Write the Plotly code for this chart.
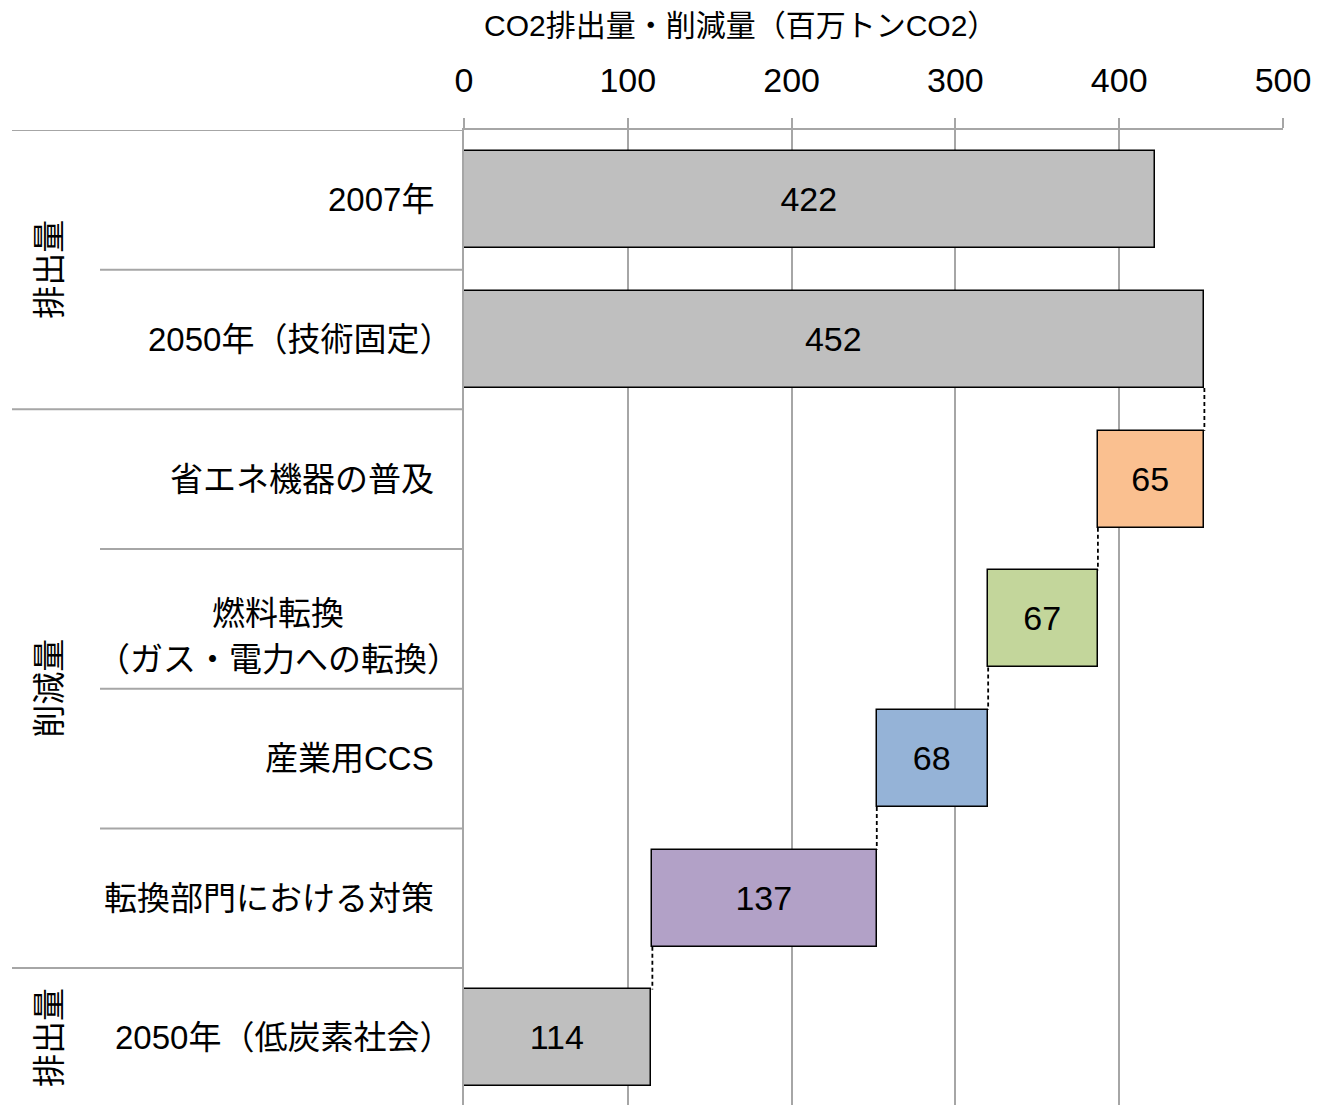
import plotly.graph_objects as go

# data
categories = ["2007年", "2050年（技術固定）", "省エネ機器の普及",
              "燃料転換<br>（ガス・電力への転換）", "産業用CCS",
              "転換部門における対策", "2050年（低炭素社会）"]
values = [422, 452, 65, 67, 68, 137, 114]
kinds = ["emit", "emit", "cut", "cut", "cut", "cut", "emit"]
colors = ["#BFBFBF", "#BFBFBF", "#FAC090", "#C3D69B", "#95B3D7", "#B2A1C7", "#BFBFBF"]
groups = [("排出量", 0, 1), ("削減量", 2, 5), ("排出量", 6, 6)]
x_ticks = [0, 100, 200, 300, 400, 500]

FONT = "Arial, 'Liberation Sans', 'Noto Sans CJK JP', sans-serif"
# the page body adds an 8px margin, so the figure is 8px smaller
OFF = 8
W, H = 1320 - OFF, 1105 - OFF
L, R, T, B = 464 - OFF, 37, 130 - OFF, 0
BAR_W = 0.695

# waterfall bases: reductions step down from the previous level
bases = []
level = 0
for v, k in zip(values, kinds):
    if k == "emit":
        bases.append(0)
        level = v
    else:
        level -= v
        bases.append(level)

rows = list(range(len(categories)))

fig = go.Figure()
fig.add_trace(go.Bar(
    y=rows, x=values, base=bases, orientation="h", width=BAR_W,
    marker=dict(color=colors, line=dict(color="black", width=1.5)),
    text=[str(v) for v in values], textposition="inside",
    insidetextanchor="middle", constraintext="none",
    insidetextfont=dict(family=FONT, size=34, color="black"),
    hoverinfo="skip", showlegend=False,
))

# dashed connectors between consecutive bars
for i in range(1, len(values) - 1):
    xc = bases[i] + values[i] if kinds[i] == "emit" else bases[i]
    fig.add_trace(go.Scatter(
        x=[xc, xc], y=[i + BAR_W / 2, i + 1 - BAR_W / 2], mode="lines",
        line=dict(color="black", width=1.8, dash="4px,3px"),
        hoverinfo="skip", showlegend=False,
    ))

# left-hand labels (positions given in page pixels)
px = lambda p: (p - OFF - L) / (W - L - R)
lab_font = dict(family=FONT, size=33, color="black")
annotations = []
for i, c in enumerate(categories):
    if "<br>" in c:
        # two-line label, each line centred, with wider line spacing
        for line, dy in zip(c.split("<br>"), [5, -41]):
            annotations.append(dict(
                x=px(278), xref="paper", y=i, yref="y", text=line,
                showarrow=False, xanchor="center", yanchor="middle",
                yshift=dy, font=lab_font,
            ))
        continue
    # full-width closing paren leaves blank space on its right
    shift = -10 if c.endswith("）") else -28
    annotations.append(dict(
        x=0, xref="paper", y=i, yref="y", text=c, showarrow=False,
        xanchor="right", yanchor="middle", xshift=shift, font=lab_font,
    ))
for name, a, b in groups:
    annotations.append(dict(
        x=px(50), xref="paper", y=(a + b) / 2, yref="y", text=name,
        showarrow=False, textangle=-90, xanchor="center", yanchor="middle",
        font=lab_font,
    ))
annotations.append(dict(
    x=px(740), xref="paper", y=1 + (T + OFF - 26) / (H - T - B), yref="paper",
    text="CO2排出量・削減量（百万トンCO2）", showarrow=False,
    xanchor="center", yanchor="middle",
    font=dict(family=FONT, size=30, color="black"),
))

# row separators in the label column
group_edges = {-0.5, 1.5, 5.5}
shapes = []
for i in range(len(categories)):
    yb = i - 0.5
    x0 = px(12) if yb in group_edges else px(100)
    shapes.append(dict(type="line", xref="paper", yref="y", x0=x0, x1=0,
                       y0=yb, y1=yb, line=dict(color="#A6A6A6", width=2)))

fig.update_layout(
    width=W, height=H, margin=dict(l=L, r=R, t=T, b=B),
    paper_bgcolor="white", plot_bgcolor="white",
    bargap=0, annotations=annotations, shapes=shapes,
    xaxis=dict(
        side="top", range=[0, 500], tickvals=x_ticks,
        showgrid=True, gridcolor="#A6A6A6", gridwidth=2,
        showline=True, linecolor="#A6A6A6", linewidth=2,
        ticks="outside", ticklen=10, tickcolor="#A6A6A6", tickwidth=2,
        ticklabelstandoff=12, zeroline=False,
        tickfont=dict(family=FONT, size=34, color="black"),
    ),
    yaxis=dict(
        range=[6.48, -0.5], showticklabels=False, showgrid=False,
        zeroline=False, showline=True, linecolor="#A6A6A6", linewidth=2,
    ),
)

fig.write_html("out.html")
